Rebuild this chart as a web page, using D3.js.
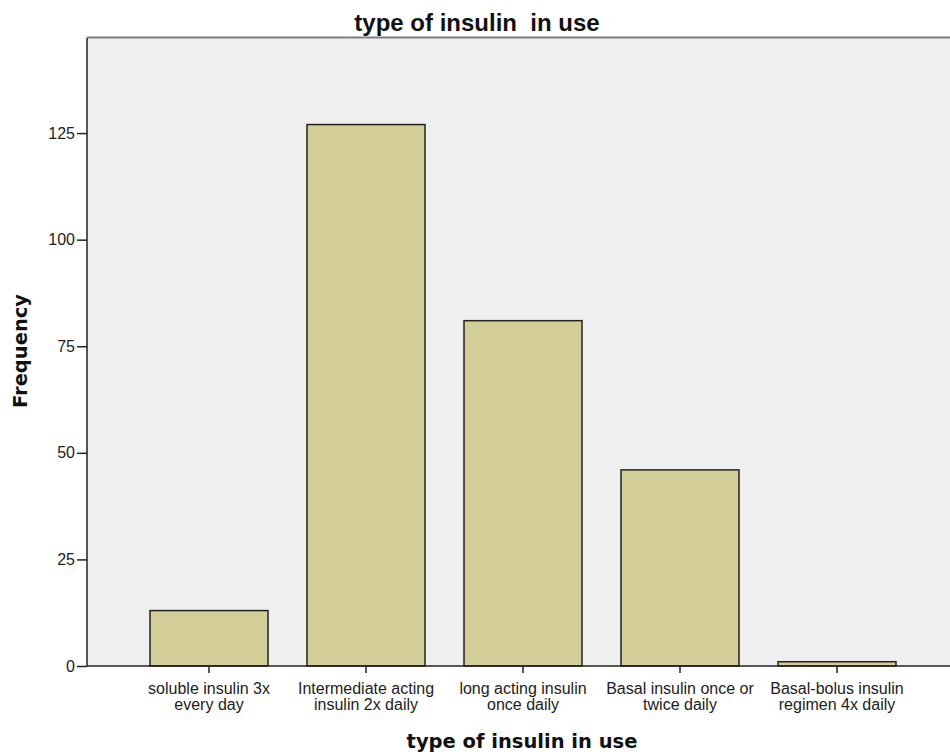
<!DOCTYPE html>
<html><head><meta charset="utf-8">
<script src="https://cdn.jsdelivr.net/npm/d3@7"></script>
<style>body{margin:0;background:#fff}svg{display:block}</style>
</head><body>
<script>
const categories = [
  ["soluble insulin 3x","every day"],
  ["Intermediate acting","insulin 2x daily"],
  ["long acting insulin","once daily"],
  ["Basal insulin once or","twice daily"],
  ["Basal-bolus insulin","regimen 4x daily"]
];
const frequencies = [13, 127, 81, 46, 1];
const yTicks = [0, 25, 50, 75, 100, 125];
const title = "type of insulin\u00a0\u00a0in use";
const xTitle = "type of insulin in use";
const yTitle = "Frequency";

(function() {
const W = 950, H = 756;
const svg = d3.select("body").append("svg").attr("width", W).attr("height", H);
const pLeft = 87, pTop = 38, pBottom = 666, pRight = 958;
const sans = '"Liberation Sans",Arial,sans-serif';
const dv = '"DejaVu Sans",sans-serif';

const x = d3.scaleBand().domain(d3.range(categories.length))
  .range([130.5, 915.5]).paddingInner(39/157).paddingOuter(39/314);
const y = d3.scaleLinear().domain([0, 147.3]).range([pBottom, pTop]);

svg.append("rect").attr("x", pLeft).attr("y", pTop).attr("width", pRight - pLeft).attr("height", pBottom - pTop).attr("fill", "#efefef");
svg.append("line").attr("x1", pLeft).attr("x2", W).attr("y1", pTop - 0.5).attr("y2", pTop - 0.5).attr("stroke", "#808080").attr("stroke-width", 2);

svg.selectAll("rect.bar").data(frequencies).join("rect").attr("class", "bar")
  .attr("x", (d, i) => x(i)).attr("width", x.bandwidth())
  .attr("y", d => y(d)).attr("height", d => y(0) - y(d))
  .attr("fill", "#d3ce97").attr("stroke", "#222").attr("stroke-width", 1.5);

const ya = svg.append("g").attr("transform", `translate(${pLeft},0)`)
  .call(d3.axisLeft(y).tickValues(yTicks).tickSize(10).tickPadding(2));
ya.attr("font-family", null).attr("font-size", null);
ya.select(".domain").attr("stroke", "#222").attr("stroke-width", 1.5).attr("d", `M0,${pTop}V${pBottom}`);
ya.selectAll(".tick line").attr("stroke", "#222").attr("stroke-width", 1.5);
ya.selectAll(".tick text").attr("fill", "#222").style("font-size", "16px").style("font-family", sans);

const xa = svg.append("g").attr("transform", `translate(0,${pBottom})`)
  .call(d3.axisBottom(x).tickSize(7).tickFormat(""));
xa.select(".domain").attr("stroke", "#222").attr("stroke-width", 1.5).attr("d", `M${pLeft},0H${W}`);
xa.selectAll(".tick line").attr("stroke", "#222").attr("stroke-width", 1.5);
xa.selectAll(".tick").each(function(d) {
  const t = d3.select(this).append("text").attr("fill", "#222")
    .attr("text-anchor", "middle").style("font-size", "16px").style("font-family", sans);
  categories[d].forEach((s, j) => t.append("tspan").attr("x", 0).attr("y", 28 + j * 16).text(s));
});

svg.append("text").attr("x", 477).attr("y", 31).attr("text-anchor", "middle")
  .style("font-family", sans).style("font-size", "24px").style("font-weight", "bold").attr("fill", "#111").text(title);
svg.append("text").attr("x", 522).attr("y", 748).attr("text-anchor", "middle")
  .style("font-family", dv).style("font-size", "19.5px").style("font-weight", "bold").attr("fill", "#111").text(xTitle);
svg.append("text").attr("transform", `translate(27,351) rotate(-90)`).attr("text-anchor", "middle")
  .style("font-family", dv).style("font-size", "19.5px").style("font-weight", "bold").attr("fill", "#111").text(yTitle);
})();
</script>
</body></html>
